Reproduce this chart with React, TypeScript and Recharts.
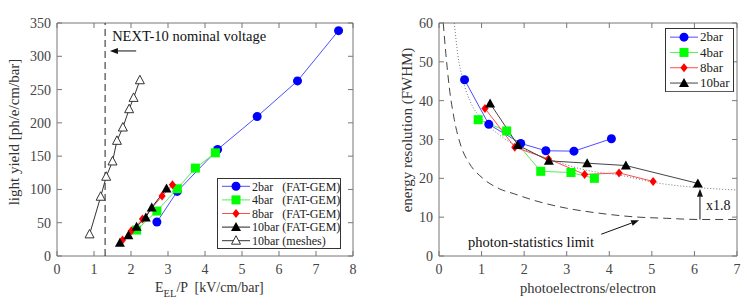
import React from 'react';
import {
  LineChart, Line, XAxis, YAxis, ReferenceArea, ReferenceLine, ReferenceDot, Legend,
} from 'recharts';

// ============================================================
// Light yield (left) and energy resolution (right) vs pressure
// ============================================================

const FONT = '"Liberation Serif", "Times New Roman", serif';

// ---- left panel: light yield vs reduced field ----
const lyX2bar = [2.70, 3.25, 4.34, 5.41, 6.50, 7.61];
const lyY2bar = [51, 97, 160, 209.5, 263, 338.5];
const lyX4bar = [2.15, 2.70, 3.25, 3.74, 4.28];
const lyY4bar = [39, 67.5, 101, 132, 155];
const lyX8bar = [1.77, 2.01, 2.31, 2.84, 3.12];
const lyY8bar = [24, 38, 55.5, 90, 107];
const lyX10bar = [1.70, 1.93, 2.15, 2.40, 2.56, 2.96];
const lyY10bar = [20, 31, 44, 58, 73, 101.5];
const lyXMesh = [0.88, 1.18, 1.33, 1.50, 1.62, 1.78, 1.95, 2.07, 2.24];
const lyYMesh = [32.5, 89, 119, 142, 173, 193, 220.5, 237.5, 264];
const lyTicksX = [0, 1, 2, 3, 4, 5, 6, 7, 8];
const lyTicksY = [0, 50, 100, 150, 200, 250, 300, 350];
const nominalVoltage = 1.3;

// ---- right panel: energy resolution vs photoelectrons ----
const erX2bar = [0.60, 1.17, 1.92, 2.51, 3.17, 4.05];
const erY2bar = [45.4, 33.9, 29.0, 27.1, 27.0, 30.2];
const erX4bar = [0.92, 1.59, 2.39, 3.10, 3.65];
const erY4bar = [35.1, 32.2, 21.8, 21.5, 20.0];
const erX8bar = [1.08, 1.78, 2.57, 3.42, 4.23, 5.03];
const erY8bar = [38.0, 28.0, 25.0, 21.0, 21.4, 19.2];
const erX10bar = [1.20, 1.85, 2.58, 3.48, 4.39, 6.08];
const erY10bar = [39.3, 28.6, 24.5, 23.9, 23.3, 18.7];
const limitX = [0.10, 0.16, 0.24, 0.36, 0.52, 0.71, 1.03, 1.42, 1.77, 2.21, 3.00, 3.78, 4.56, 5.35, 6.13, 6.91, 7.0];
const limitY = [60, 52.2, 43.6, 35.1, 28.2, 23.9, 20.0, 17.3, 16.0, 14.4, 12.3, 11.0, 10.1, 9.7, 9.4, 9.4, 9.4];
const scaledX = [0.36, 0.44, 0.56, 0.79, 1.0, 1.5, 2.0, 2.84, 3.5, 4.2, 5.19, 6.1, 7.0];
const scaledY = [60, 52, 45.5, 38.5, 35.5, 30.5, 27.5, 24, 22, 20.9, 18.7, 17.6, 17.0];
const erTicksX = [0, 1, 2, 3, 4, 5, 6, 7];
const erTicksY = [0, 10, 20, 30, 40, 50, 60];

const zip = (xs: number[], ys: number[]) => xs.map((x, i) => ({ x, y: ys[i] }));

type MarkerKind = 'circle' | 'square' | 'diamond' | 'triangle' | 'openTriangle';

function Marker({ cx, cy, kind, color }: { cx: number; cy: number; kind: MarkerKind; color: string }) {
  if (cx == null || cy == null) return null;
  switch (kind) {
    case 'circle':
      return <circle cx={cx} cy={cy} r={4.5} fill={color} />;
    case 'square':
      return <rect x={cx - 4.5} y={cy - 4.5} width={9} height={9} fill={color} />;
    case 'diamond':
      return <polygon points={`${cx},${cy - 4.5} ${cx + 3.6},${cy} ${cx},${cy + 4.5} ${cx - 3.6},${cy}`} fill={color} />;
    case 'triangle':
      return <polygon points={`${cx},${cy - 5} ${cx + 5},${cy + 4} ${cx - 5},${cy + 4}`} fill={color} />;
    default:
      return <polygon points={`${cx},${cy - 5} ${cx + 4.5},${cy + 3.5} ${cx - 4.5},${cy + 3.5}`} fill="#fff" stroke={color} strokeWidth={1} />;
  }
}

interface SeriesDef {
  name: string;
  data: { x: number; y: number }[];
  line: string;
  marker: string;
  kind: MarkerKind;
}

const leftSeries: SeriesDef[] = [
  { name: '2bar   (FAT-GEM)', data: zip(lyX2bar, lyY2bar), line: '#4d4dff', marker: '#0000ff', kind: 'circle' },
  { name: '4bar   (FAT-GEM)', data: zip(lyX4bar, lyY4bar), line: '#55ee55', marker: '#00ff00', kind: 'square' },
  { name: '8bar   (FAT-GEM)', data: zip(lyX8bar, lyY8bar), line: '#ff4d4d', marker: '#ff0000', kind: 'diamond' },
  { name: '10bar (FAT-GEM)', data: zip(lyX10bar, lyY10bar), line: '#222', marker: '#000', kind: 'triangle' },
  { name: '10bar (meshes)', data: zip(lyXMesh, lyYMesh), line: '#333', marker: '#333', kind: 'openTriangle' },
];

const rightSeries: SeriesDef[] = [
  { name: '2bar', data: zip(erX2bar, erY2bar), line: '#4d4dff', marker: '#0000ff', kind: 'circle' },
  { name: '4bar', data: zip(erX4bar, erY4bar), line: '#55ee55', marker: '#00ff00', kind: 'square' },
  { name: '8bar', data: zip(erX8bar, erY8bar), line: '#ff4d4d', marker: '#ff0000', kind: 'diamond' },
  { name: '10bar', data: zip(erX10bar, erY10bar), line: '#444', marker: '#000', kind: 'triangle' },
];

// inward MATLAB-style ticks on all four sides, drawn with the label
function XTick({ x, payload, top, bottom }: any) {
  return (
    <g>
      <line x1={x} x2={x} y1={bottom} y2={bottom - 5} stroke="#777" />
      <line x1={x} x2={x} y1={top} y2={top + 5} stroke="#777" />
      <text x={x} y={bottom + 18} textAnchor="middle" fontFamily={FONT} fontSize={14} fill="#444">
        {payload.value}
      </text>
    </g>
  );
}

function YTick({ y, payload, left, right }: any) {
  return (
    <g>
      <line x1={left} x2={left + 5} y1={y} y2={y} stroke="#777" />
      <line x1={right} x2={right - 5} y1={y} y2={y} stroke="#777" />
      <text x={left - 6} y={y + 5} textAnchor="end" fontFamily={FONT} fontSize={14} fill="#444">
        {payload.value}
      </text>
    </g>
  );
}

function Arrow({ x1, y1, x2, y2 }: any) {
  const a = Math.atan2(y2 - y1, x2 - x1);
  const len = 8;
  const w = 3;
  const bx = x2 - len * Math.cos(a);
  const by = y2 - len * Math.sin(a);
  const px = -Math.sin(a) * w;
  const py = Math.cos(a) * w;
  return (
    <g>
      <line x1={x1} y1={y1} x2={bx} y2={by} stroke="#111" strokeWidth={1} />
      <polygon points={`${x2},${y2} ${bx + px},${by + py} ${bx - px},${by - py}`} fill="#111" />
    </g>
  );
}

function makeLegend(series: SeriesDef[], width: number, rowH: number, fontSize: number) {
  const h = series.length * rowH + 3;
  return () => (
    <svg width={width} height={h} style={{ display: 'block' }}>
      <rect x={0.5} y={0.5} width={width - 1} height={h - 1} fill="#fff" stroke="#333" />
      {series.map((s, i) => {
        const cy = 1.5 + rowH * i + rowH / 2;
        return (
          <g key={s.name}>
            <line x1={5} x2={33} y1={cy} y2={cy} stroke={s.line} />
            <Marker cx={19} cy={cy} kind={s.kind} color={s.marker} />
            <text x={35} y={cy + 4.2} fontFamily={FONT} fontSize={fontSize} fill="#222" style={{ whiteSpace: 'pre' }}>
              {s.name}
            </text>
          </g>
        );
      })}
    </svg>
  );
}

function renderSeries(series: SeriesDef[]) {
  return series.map((s) => (
    <Line
      key={s.name}
      data={s.data}
      dataKey="y"
      type="linear"
      stroke={s.line}
      strokeWidth={1}
      isAnimationActive={false}
      legendType="none"
      dot={(p: any) => <Marker key={`${s.name}-${p.index}`} cx={p.cx} cy={p.cy} kind={s.kind} color={s.marker} />}
      activeDot={false}
    />
  ));
}

function LightYieldChart() {
  const top = 23, bottom = 256, left = 57, right = 353;
  return (
    <LineChart width={370} height={305} margin={{ top, right: 370 - right, bottom: 19, left: 17 }}>
      <XAxis
        type="number" dataKey="x" domain={[0, 8]} ticks={lyTicksX} height={30}
        axisLine={false} tickLine={false} interval={0}
        tick={<XTick top={top} bottom={bottom} />}
        label={() => (
          <text x={155} y={292} fontFamily={FONT} fontSize={14} fill="#333" style={{ whiteSpace: 'pre' }}>
            <tspan>E</tspan>
            <tspan dy={5} fontSize={10.5}>EL</tspan>
            <tspan dy={-5}>/P  [kV/cm/bar]</tspan>
          </text>
        )}
      />
      <YAxis
        type="number" domain={[0, 350]} ticks={lyTicksY} width={40}
        axisLine={false} tickLine={false} interval={0}
        tick={<YTick left={left} right={right} />}
        label={() => (
          <text x={19} y={132} transform="rotate(-90 19 132)" textAnchor="middle" fontFamily={FONT} fontSize={15} fill="#333">
            light yield [ph/e/cm/bar]
          </text>
        )}
      />
      <ReferenceArea x1={0} x2={8} y1={0} y2={350} fill="none" stroke="#777" strokeWidth={1} />
      <ReferenceLine x={nominalVoltage} stroke="#222" strokeDasharray="7 4" />
      <ReferenceLine segment={[{ x: 2.14, y: 308 }, { x: 1.43, y: 308 }]} shape={<Arrow />} />
      <ReferenceDot
        x={1.49} y={323} r={0}
        shape={(p: any) => (
          <text x={p.cx} y={p.cy} fontFamily={FONT} fontSize={14.5} fill="#111">NEXT-10 nominal voltage</text>
        )}
      />
      {renderSeries(leftSeries)}
      <Legend
        layout="vertical" verticalAlign="middle" align="center"
        wrapperStyle={{ left: 217, top: 178, width: 124 }}
        content={makeLegend(leftSeries, 124, 13.6, 12)}
      />
    </LineChart>
  );
}

function ResolutionChart() {
  const top = 23, bottom = 256, left = 69, right = 367;
  return (
    <LineChart width={377} height={305} margin={{ top, right: 377 - right, bottom: 19, left: 29 }}>
      <XAxis
        type="number" dataKey="x" domain={[0, 7]} ticks={erTicksX} height={30} allowDataOverflow
        axisLine={false} tickLine={false} interval={0}
        tick={<XTick top={top} bottom={bottom} />}
        label={() => (
          <text x={218} y={293} textAnchor="middle" fontFamily={FONT} fontSize={14.5} fill="#333">
            photoelectrons/electron
          </text>
        )}
      />
      <YAxis
        type="number" domain={[0, 60]} ticks={erTicksY} width={40} allowDataOverflow
        axisLine={false} tickLine={false} interval={0}
        tick={<YTick left={left} right={right} />}
        label={() => (
          <text x={42} y={130} transform="rotate(-90 42 130)" textAnchor="middle" fontFamily={FONT} fontSize={15} fill="#333">
            energy resolution (FWHM)
          </text>
        )}
      />
      <ReferenceArea x1={0} x2={7} y1={0} y2={60} fill="none" stroke="#777" strokeWidth={1} />
      <Line
        data={zip(limitX, limitY)} dataKey="y" type="monotone" stroke="#444" strokeWidth={1}
        strokeDasharray="8 5" dot={false} activeDot={false} isAnimationActive={false} legendType="none"
      />
      <Line
        data={zip(scaledX, scaledY)} dataKey="y" type="monotone" stroke="#777" strokeWidth={1}
        strokeDasharray="1 2" dot={false} activeDot={false} isAnimationActive={false} legendType="none"
      />
      <ReferenceLine segment={[{ x: 6.13, y: 9.4 }, { x: 6.13, y: 17.3 }]} shape={<Arrow />} />
      <ReferenceLine segment={[{ x: 3.81, y: 5.6 }, { x: 4.70, y: 9.2 }]} shape={<Arrow />} />
      <ReferenceDot
        x={6.27} y={11.8} r={0}
        shape={(p: any) => (
          <text x={p.cx} y={p.cy} fontFamily={FONT} fontSize={14} fill="#111">x1.8</text>
        )}
      />
      <ReferenceDot
        x={0.68} y={2.4} r={0}
        shape={(p: any) => (
          <text x={p.cx} y={p.cy} fontFamily={FONT} fontSize={14.5} fill="#111">photon-statistics limit</text>
        )}
      />
      {renderSeries(rightSeries)}
      <Legend
        layout="vertical" verticalAlign="middle" align="center"
        wrapperStyle={{ left: 295, top: 28, width: 69 }}
        content={makeLegend(rightSeries, 69, 15.3, 13)}
      />
    </LineChart>
  );
}

export default function App() {
  return (
    <div style={{ position: 'absolute', left: 0, top: 0, width: 747, height: 305, background: '#fff' }}>
      <div style={{ position: 'absolute', left: 0, top: 0 }}>
        <LightYieldChart />
      </div>
      <div style={{ position: 'absolute', left: 370, top: 0 }}>
        <ResolutionChart />
      </div>
    </div>
  );
}
